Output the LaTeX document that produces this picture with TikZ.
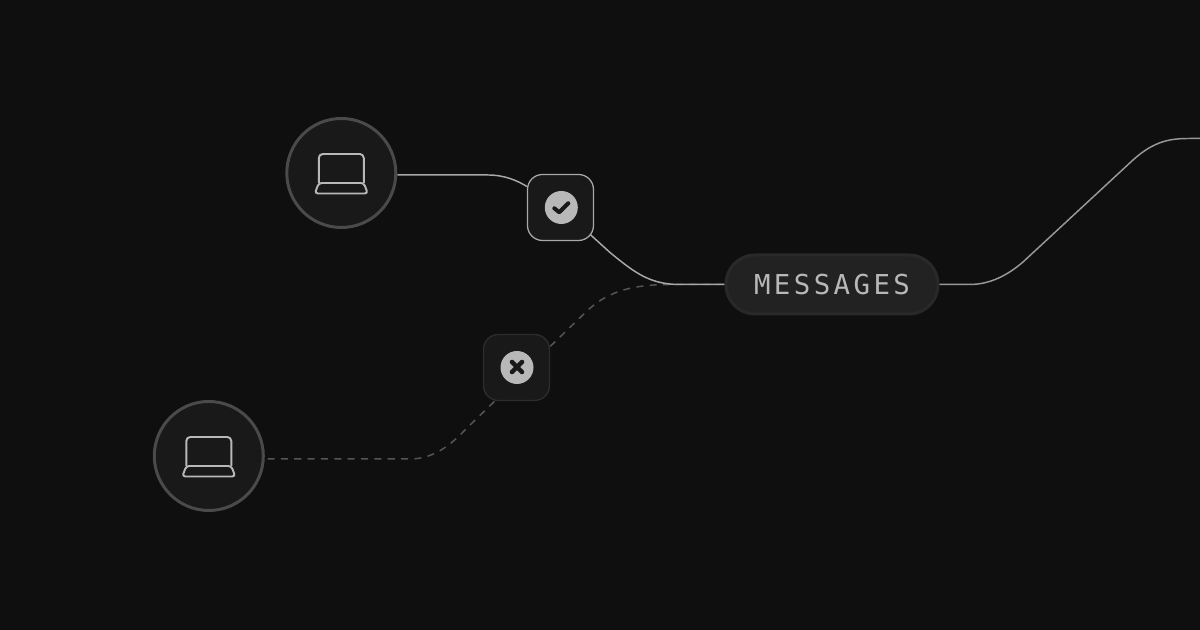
\documentclass[tikz,border=0pt]{standalone}
\usepackage{fontspec}
\usetikzlibrary{backgrounds}
\newfontfamily\pillfont[LetterSpace=12.4]{DejaVu Sans Mono}
\definecolor{pagebg}{HTML}{0F0F0F}
\definecolor{nodefill}{HTML}{191919}
\definecolor{ringgray}{HTML}{4A4A4A}
\definecolor{linegray}{HTML}{A8A8A8}
\definecolor{linedim}{HTML}{989898}
\definecolor{dashgray}{HTML}{555555}
\definecolor{icongray}{HTML}{B8B8B8}
\tikzset{
	laptopnode/.style={circle, draw=ringgray, fill=nodefill, line width=0.85pt, minimum size=1.09cm, inner sep=0pt},
	checkbox/.style={draw=linegray, fill=nodefill, line width=0.36pt, rounded corners=0.15cm, minimum size=0.66cm, inner sep=0pt},
	crossbox/.style={draw=black!20!nodefill!90!white, fill=nodefill, line width=0.4pt, rounded corners=0.15cm, minimum size=0.66cm, inner sep=0pt},
	badge/.style={circle, fill=icongray, minimum size=0.33cm, inner sep=0pt},
	pillnode/.style={draw=white!11!pagebg, fill=white!8!pagebg, line width=0.85pt, rounded corners=0.29cm, minimum width=2.12cm, minimum height=0.59cm, inner sep=0pt, text=icongray, font=\fontsize{7.8}{10}\pillfont},
	solidline/.style={draw=linegray, line width=0.42pt},
	dashline/.style={draw=dashgray, line width=0.42pt, dash pattern=on 2pt off 1.8pt},
	laptopicon/.pic={
		\draw [icongray, line width=0.55pt, line join=round] (-0.225,-0.10) -- (-0.225,0.15) arc (180:90:0.04) -- (0.185,0.19) arc (90:0:0.04) -- (0.225,-0.10);
		\draw [icongray, line width=0.55pt, line join=round, rounded corners=0.03cm] (-0.225,-0.10) -- (0.225,-0.10) -- (0.265,-0.205) -- (-0.265,-0.205) -- cycle;
	},
}

\begin{document}
\begin{tikzpicture}
	\useasboundingbox (0,0) rectangle (12,6.3);

	\node (laptopA) [laptopnode] at (3.413,4.57) {};
	\node (laptopB) [laptopnode] at (2.088,1.74) {};
	\node (check) [checkbox] at (5.605,4.225) {};
	\node (cross) [crossbox] at (5.165,2.625) {};
	\node (messages) [pillnode] at (8.32,3.455) {MESSAGES};
	\coordinate (exit) at (12,4.915);

	\node (checkmark) [badge] at (5.613,4.225) {};
	\node (crossmark) [badge] at (5.17,2.625) {};
	\pic at (laptopA) {laptopicon};
	\pic at (laptopB) {laptopicon};

	\draw [nodefill, line width=1.15pt, line cap=round, line join=round] (5.543,4.217) -- (5.593,4.177) -- (5.683,4.267);
	\draw [nodefill, line width=1.3pt, line cap=round] (5.12,2.58) -- (5.22,2.68);
	\draw [nodefill, line width=1.3pt, line cap=round] (5.12,2.68) -- (5.22,2.58);

	\begin{scope}[on background layer]
		\fill [pagebg] (0,0) rectangle (12,6.3);

		\draw [dashline, shorten <=0.8pt] (laptopB.-3) -- (4.10,1.71) .. controls (4.30,1.71) and (4.47,1.81) .. (4.65,2.0) -- (cross.237);
		\draw [dashline] (cross.32) -- (5.88,3.20) .. controls (6.10,3.40) and (6.35,3.455) .. (6.72,3.455) -- (messages.west);

		\draw [solidline] (laptopA.-2) -- (4.88,4.55) .. controls (5.05,4.55) and (5.18,4.49) .. (check.148.5);
		\draw [solidline] (check.center) -- (6.10,3.775) .. controls (6.35,3.57) and (6.50,3.455) .. (6.80,3.455) -- (messages.west);
		\draw [solidline, draw=linedim] (messages.east) -- (9.70,3.455) .. controls (9.90,3.455) and (10.08,3.55) .. (10.23,3.68) -- (11.33,4.70) .. controls (11.55,4.90) and (11.72,4.915) .. (11.90,4.915) -- (exit);
	\end{scope}
\end{tikzpicture}
\end{document}
